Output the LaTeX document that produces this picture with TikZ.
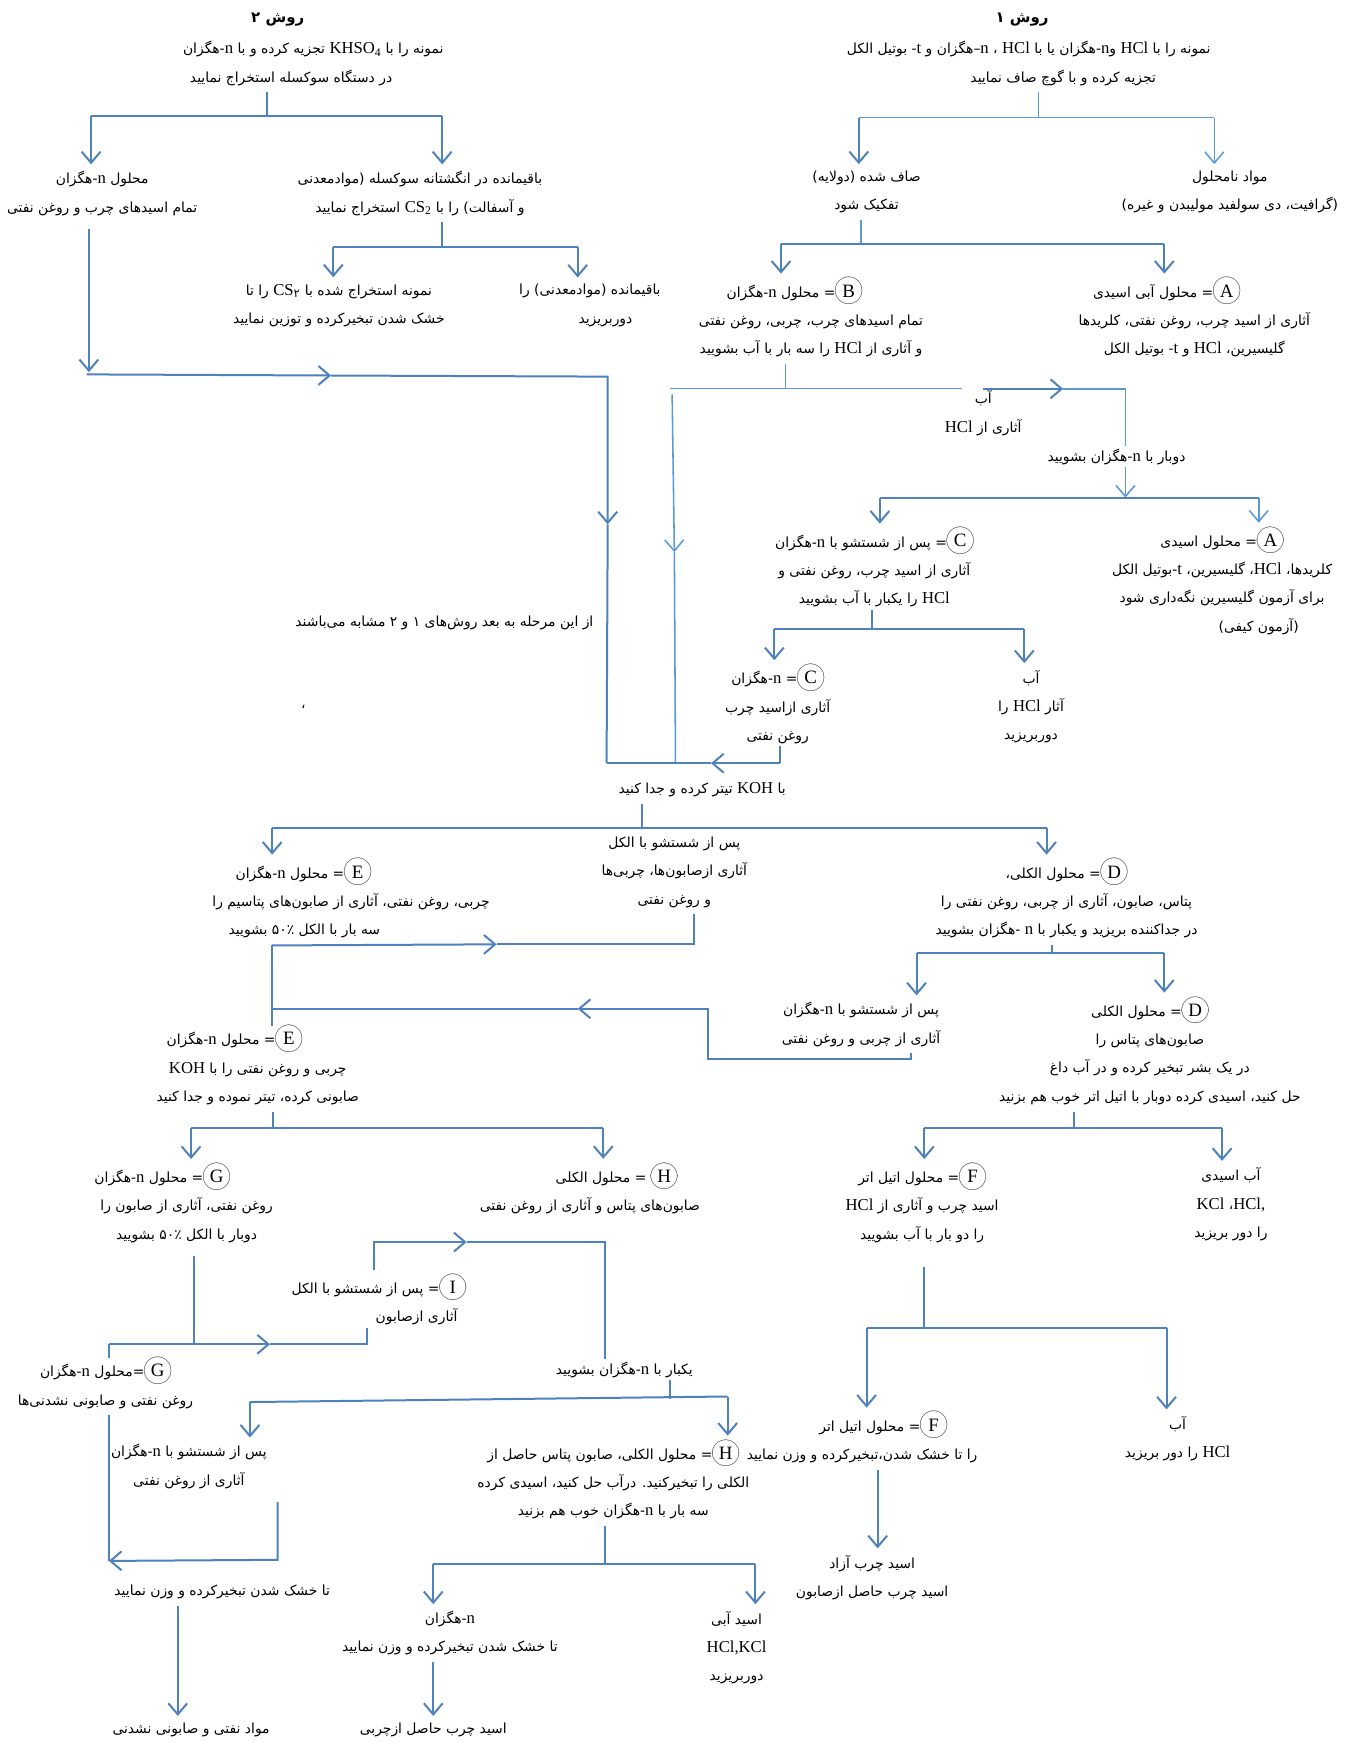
\documentclass[tikz,border=0pt]{standalone}
\usepackage{fontspec}
\usepackage{tikz}
\usetikzlibrary{arrows.meta}
\setmainfont{Liberation Serif}
\newfontfamily\fa[Script=Arabic]{DejaVu Sans}
\TeXXeTstate=1
\definecolor{lineblue}{RGB}{79,129,189}
\definecolor{lightblue}{RGB}{91,155,213}
\newcommand{\rl}[1]{\beginR #1\endR}
\newcommand{\lat}[1]{\beginL{\rmfamily\fontsize{15}{25}\selectfont #1}\endL}
\newcommand{\pad}[1]{\hspace*{#1}}
% circled letter, drawn with picture mode so that it stays a plain box
\newcommand{\cl}[1]{\beginL\setlength{\unitlength}{1pt}\begin{picture}(24,15)\put(12,5.5){\circle{24}}\put(12,0){\makebox(0,0)[b]{\rmfamily\fontsize{17}{17}\selectfont #1}}\end{picture}\endL}

\begin{document}
\begin{tikzpicture}[x=1pt, y=-1pt,
    txt/.style={font=\fa\fontsize{12.5}{25.5}\selectfont, align=center, inner sep=2pt},
    ttl/.style={font=\fa\bfseries\fontsize{13.5}{16}\selectfont, inner sep=2pt},
    wire/.style={draw=lineblue, line width=1.8pt},
    thinwire/.style={draw=lightblue, line width=1pt},
    midwire/.style={draw=lightblue, line width=1.4pt},
    stub/.style={shorten <=4pt},
    tip/.style={-{Straight Barb[length=10pt, width=17pt]}},
    marr/.style={wire, tip},
    arr/.style={wire, tip, shorten >=4pt},
    arrlight/.style={midwire, tip, shorten >=4pt},
]
\fill[white] (0,0) rectangle (1220,1568);
\useasboundingbox (0,0) rectangle (1220,1568);

% Nodes: method 2
\node[ttl] (m2) at (250,18) {\rl{روش ۲}};
\node[txt] (m2a) at (282,57) {\rl{نمونه را با \lat{KHSO\textsubscript{4}} تجزیه کرده و با \lat{n}-هگزان}\\\rl{در دستگاه سوکسله استخراج نمایید}\pad{40pt}};
\node[txt] (m2l) at (92,174) {\rl{محلول \lat{n}-هگزان}\\\rl{تمام اسیدهای چرب و روغن نفتی}};
\node[txt] (m2r) at (378,174) {\rl{باقیمانده در انگشتانه سوکسله (موادمعدنی}\\\rl{و آسفالت) را با \lat{CS\textsubscript{2}} استخراج نمایید}};
\node[txt] (m2s) at (305,275) {\rl{نمونه استخراج شده با \lat{CS\textsubscript{\fa ۲}} را تا}\\\rl{خشک شدن تبخیرکرده و توزین نمایید}};
\node[txt] (m2d) at (531,275) {\rl{باقیمانده (موادمعدنی) را}\\\pad{28pt}\rl{دوربریزید}};

% Nodes: method 1
\node[ttl] (m1) at (920,18) {\rl{روش ۱}};
\node[txt] (m1a) at (926,57) {\rl{نمونه را با \lat{HCl} و\lat{n}-هگزان یا با \lat{HCl} ، \lat{n}–هگزان و \lat{t}- بوتیل الکل}\\\pad{62pt}\rl{تجزیه کرده و با گوچ صاف نمایید}};
\node[txt] (m1l) at (780,173) {\rl{صاف شده (دولایه)}\\\rl{تفکیک شود}};
\node[txt] (m1r) at (1107,173) {\rl{مواد نامحلول}\\\rl{(گرافیت، دی سولفید مولیبدن و غیره)}};
\node[txt] (mB) at (730,287) {\rl{\cl{B}= محلول \lat{n}-هگزان}\pad{30pt}\\\rl{تمام اسیدهای چرب، چربی، روغن نفتی}\\\rl{و آثاری از \lat{HCl} را سه بار با آب بشویید}};
\node[txt] (mA) at (1075,287) {\rl{\cl{A}= محلول آبی اسیدی}\pad{50pt}\\\rl{آثاری از اسید چرب، روغن نفتی، کلریدها}\\\rl{گلیسیرین، \lat{HCl} و \lat{t}- بوتیل الکل}};
\node[txt] (mW) at (885,372) {\rl{آب}\\\rl{آثاری از \lat{HCl}}};
\node[txt] (mT) at (1005,411) {\rl{دوبار با \lat{n}-هگزان بشویید}};
\node[txt] (mC) at (787,512) {\rl{\cl{C}= پس از شستشو با \lat{n}-هگزان}\\\rl{آثاری از اسید چرب، روغن نفتی و}\\\rl{\lat{HCl} را یکبار با آب بشویید}};
\node[txt] (mA2) at (1100,524) {\rl{\cl{A}= محلول اسیدی}\\\rl{کلریدها، \lat{HCl}، گلیسیرین، \lat{t}-بوتیل الکل}\\\rl{برای آزمون گلیسیرین نگه‌داری شود}\pad{34pt}\\\pad{66pt}\rl{(آزمون کیفی)}};
\node[txt] (mC2) at (700,635) {\rl{\cl{C}= \lat{n}-هگزان}\\\rl{آثاری ازاسید چرب}\\\rl{روغن نفتی}};
\node[txt] (mWa) at (928,636) {\rl{آب}\\\rl{آثار \lat{HCl} را}\\\rl{دوربریزید}};

% Nodes: common part
\node[txt] (mNote) at (400,561) {\rl{از این مرحله به بعد روش‌های ۱ و ۲ مشابه می‌باشند}};
\node[txt] (mComma) at (273,636) {\rl{،}};
\node[txt] (mK) at (632,711) {\rl{با \lat{KOH} تیتر کرده و جدا کنید}};
\node[txt] (mM) at (607,785) {\rl{پس از شستشو با الکل}\\\rl{آثاری ازصابون‌ها، چربی‌ها}\\\rl{و روغن نفتی}};
\node[txt] (mE) at (316,810) {\rl{\cl{E}= محلول \lat{n}-هگزان}\pad{86pt}\\\rl{چربی، روغن نفتی، آثاری از صابون‌های پتاسیم را}\\\rl{سه بار با الکل ۵۰٪ بشویید}\pad{84pt}};
\node[txt] (mD) at (960,810) {\rl{\cl{D}= محلول الکلی،}\\\rl{پتاس، صابون، آثاری از چربی، روغن نفتی را}\\\rl{در جداکننده بریزید و یکبار با \lat{n} -هگزان بشویید}};
\node[txt] (mP) at (775,922) {\rl{پس از شستشو با \lat{n}-هگزان}\\\rl{آثاری از چربی و روغن نفتی}};
\node[txt] (mD2) at (1035,947) {\rl{\cl{D}= محلول الکلی}\\\rl{صابون‌های پتاس را}\\\rl{در یک بشر تبخیر کرده و در آب داغ}\\\rl{حل کنید، اسیدی کرده دوبار با اتیل اتر خوب هم بزنید}};
\node[txt] (mE2) at (232,960) {\rl{\cl{E}= محلول \lat{n}-هگزان}\pad{42pt}\\\rl{چربی و روغن نفتی را با \lat{KOH}}\\\rl{صابونی کرده، تیتر نموده و جدا کنید}};
\node[txt] (mG) at (168,1084) {\rl{\cl{G}= محلول \lat{n}-هگزان}\pad{44pt}\\\rl{روغن نفتی، آثاری از صابون را}\\\rl{دوبار با الکل ۵۰٪ بشویید}};
\node[txt] (mH) at (531,1071) {\pad{48pt}\rl{\cl{H} = محلول الکلی}\\\rl{صابون‌های پتاس و آثاری از روغن نفتی}};
\node[txt] (mF) at (830,1084) {\rl{\cl{F}= محلول اتیل اتر}\\\rl{اسید چرب و آثاری از \lat{HCl}}\\\rl{را دو بار با آب بشویید}};
\node[txt] (mQ) at (1108,1084) {\rl{آب اسیدی}\\\rl{\lat{HCl,}،~\lat{KCl}}\\\rl{را دور بریزید}};
\node[txt] (mI) at (341,1171) {\rl{\cl{I}= پس از شستشو با الکل}\\\pad{68pt}\rl{آثاری ازصابون}};
\node[txt] (mY) at (562,1233) {\rl{یکبار با \lat{n}-هگزان بشویید}};
\node[txt] (mG2) at (95,1246) {\rl{\cl{G}=محلول \lat{n}-هگزان}\\\rl{روغن نفتی و صابونی نشدنی‌ها}};
\node[txt] (mF2) at (776,1295) {\pad{38pt}\rl{\cl{F}= محلول اتیل اتر}\\\rl{را  تا خشک شدن،تبخیرکرده و وزن نمایید}};
\node[txt] (mW2) at (1060,1295) {\rl{آب}\\\rl{\lat{HCl} را دور بریزید}};
\node[txt] (mS) at (170,1320) {\rl{پس از شستشو با \lat{n}-هگزان}\\\rl{آثاری از روغن نفتی}};
\node[txt] (mH2) at (552,1333) {\rl{\cl{H}= محلول الکلی، صابون پتاس حاصل از}\\\rl{الکلی را تبخیرکنید. درآب حل کنید، اسیدی کرده}\\\rl{سه بار با \lat{n}-هگزان خوب هم بزنید}};
\node[txt] (mFree) at (785,1420) {\rl{اسید چرب آزاد}\\\rl{اسید چرب حاصل ازصابون}};
\node[txt] (mDry) at (200,1433) {\rl{تا خشک شدن تبخیرکرده و وزن نمایید}};
\node[txt] (mHx) at (405,1470) {\rl{\lat{n}-هگزان}\\\rl{تا خشک شدن تبخیرکرده و وزن نمایید}};
\node[txt] (mAq) at (663,1483) {\rl{اسید آبی}\\\rl{\lat{HCl,KCl}}\\\rl{دوربریزید}};
\node[txt] (mUns) at (172,1557) {\rl{مواد نفتی و صابونی نشدنی}};
\node[txt] (mFat) at (390,1557) {\rl{اسید چرب حاصل ازچربی}};

% Junction points
\coordinate (jL1) at (240,104); \coordinate (jL1l) at (82,104); \coordinate (jL1r) at (398,104);
\coordinate (jL2) at (398,222); \coordinate (jL2l) at (300,222); \coordinate (jL2r) at (520,222);
\coordinate (kL) at (80,335); \coordinate (kA) at (78,337); \coordinate (kAm) at (298,338);
\coordinate (kB) at (547,339); \coordinate (kBm) at (547,472); \coordinate (kC) at (546,687);
\coordinate (kD) at (702,687); \coordinate (kDm) at (640,687);
\coordinate (j1) at (935,106); \coordinate (j1l) at (773,106); \coordinate (j1r) at (1093,106);
\coordinate (jR2) at (775,220); \coordinate (jR2l) at (703,220); \coordinate (jR2r) at (1048,220);
\coordinate (wJ) at (707,350); \coordinate (wL) at (603,350); \coordinate (wR) at (866,350);
\coordinate (wA) at (885,350); \coordinate (wAm) at (957,350); \coordinate (wC) at (1013,350);
\coordinate (vT) at (605,355); \coordinate (vM) at (607,497); \coordinate (vB) at (608,687);
\coordinate (jR3) at (1013,448); \coordinate (jR3l) at (792,448); \coordinate (jR3r) at (1133,448);
\coordinate (jR4) at (785,566); \coordinate (jR4l) at (697,566); \coordinate (jR4r) at (922,566);
\coordinate (jM5) at (578,745); \coordinate (jM5l) at (245,745); \coordinate (jM5r) at (942,745);
\coordinate (nA1) at (625,850); \coordinate (nAm) at (447,850); \coordinate (nA0) at (245,851);
\coordinate (pA) at (820,953); \coordinate (pB) at (637,953); \coordinate (pC) at (637,908);
\coordinate (pCm) at (520,908); \coordinate (pD) at (245,908);
\coordinate (jM8) at (947,858); \coordinate (jM8l) at (825,858); \coordinate (jM8r) at (1048,858);
\coordinate (jM9) at (246,1015); \coordinate (jM9l) at (172,1015); \coordinate (jM9r) at (543,1015);
\coordinate (jM10) at (967,1015); \coordinate (jM10l) at (832,1015); \coordinate (jM10r) at (1100,1015);
\coordinate (jM11) at (832,1195); \coordinate (jM11l) at (780,1195); \coordinate (jM11r) at (1050,1195);
\coordinate (gA) at (175,1210); \coordinate (g0) at (98,1210); \coordinate (gm) at (243,1210); \coordinate (g2) at (330,1210);
\coordinate (iA) at (337,1118); \coordinate (iAm) at (420,1118); \coordinate (iB) at (545,1118);
\coordinate (jY) at (603,1259); \coordinate (jYl) at (225,1262); \coordinate (jYr) at (655,1257);
\coordinate (sA) at (250,1404); \coordinate (sB) at (98,1405);
\coordinate (dA) at (160,1458);
\coordinate (jH) at (545,1408); \coordinate (jHl) at (390,1408); \coordinate (jHr) at (680,1408);
\coordinate (hA) at (390,1495);
\coordinate (fA) at (790,1325);

% Connectors: method 2
\draw[wire, stub] (m2a.south -| jL1) -- (jL1);
\draw[wire] (jL1l) -- (jL1r);
\draw[arr] (jL1l) -- (jL1l |- m2l.north);
\draw[arr] (jL1r) -- (jL1r |- m2r.north);
\draw[wire, stub] (m2r.south -| jL2) -- (jL2);
\draw[wire] (jL2l) -- (jL2r);
\draw[arr] (jL2l) -- (jL2l |- m2s.north);
\draw[arr] (jL2r) -- (jL2r |- m2d.north);
\draw[marr, shorten <=10pt] (m2l.south -| kL) -- (kL);
\draw[marr] (kA) -- (kAm);
\draw[marr] (kAm) -- (kB) -- (kBm);
\draw[wire] (kBm) -- (kC);

% Connectors: method 1
\draw[thinwire, stub] (m1a.south -| j1) -- (j1);
\draw[thinwire] (j1l) -- (j1r);
\draw[arr] (j1l) -- (j1l |- m1l.north);
\draw[arrlight] (j1r) -- (j1r |- m1r.north);
\draw[thinwire, stub] (m1l.south -| jR2) -- (jR2);
\draw[wire] (jR2l) -- (jR2r);
\draw[arr] (jR2l) -- (jR2l |- mB.north);
\draw[arr] (jR2r) -- (jR2r |- mA.north);
\draw[thinwire, stub] (mB.south -| wJ) -- (wJ);
\draw[thinwire] (wL) -- (wR);
\draw[marr] (wA) -- (wAm);
\draw[midwire] (wAm) -- (wC) -- (wC |- mT.north);
\draw[midwire, tip] (vT) -- (vM);
\draw[midwire] (vM) -- (vB);
\draw[midwire, tip] (mT.south -| jR3) -- (jR3);
\draw[wire] (jR3l) -- (jR3r);
\draw[arr] (jR3l) -- (jR3l |- mC.north);
\draw[arrlight] (jR3r) -- (jR3r |- mA2.north);
\draw[wire] (mC.south -| jR4) -- (jR4);
\draw[wire] (jR4l) -- (jR4r);
\draw[arr] (jR4l) -- (jR4l |- mC2.north);
\draw[arr] (jR4r) -- (jR4r |- mWa.north);
\draw[wire] (mC2.south -| kD) -- (kD);
\draw[marr] (kD) -- (kDm);
\draw[wire] (kDm) -- (kC);

% Connectors: common part
\draw[wire, stub] (mK.south -| jM5) -- (jM5);
\draw[wire] (jM5l) -- (jM5r);
\draw[arr] (jM5l) -- (jM5l |- mE.north);
\draw[arr] (jM5r) -- (jM5r |- mD.north);
\draw[wire, stub] (mM.south -| nA1) -- (nA1) -- (nAm);
\draw[marr] (nA0) -- (nAm);
\draw[wire] (nA0) -- (nA0 |- mE2.north);
\draw[marr, stub] (mP.south -| pA) -- (pA) -- (pB) -- (pC) -- (pCm);
\draw[wire] (pCm) -- (pD);
\draw[wire, stub] (mD.south -| jM8) -- (jM8);
\draw[wire] (jM8l) -- (jM8r);
\draw[arr] (jM8l) -- (jM8l |- mP.north);
\draw[arr] (jM8r) -- (jM8r |- mD2.north);
\draw[wire, stub] (mE2.south -| jM9) -- (jM9);
\draw[wire] (jM9l) -- (jM9r);
\draw[arr] (jM9l) -- (jM9l |- mG.north);
\draw[arr] (jM9r) -- (jM9r |- mH.north);
\draw[wire, stub] (mD2.south -| jM10) -- (jM10);
\draw[wire] (jM10l) -- (jM10r);
\draw[arr] (jM10l) -- (jM10l |- mF.north);
\draw[arr] (jM10r) -- (jM10r |- mQ.north);
\draw[wire, shorten <=20pt] (mF.south -| jM11) -- (jM11);
\draw[wire] (jM11l) -- (jM11r);
\draw[arr] (jM11l) -- (jM11l |- mF2.north);
\draw[arr] (jM11r) -- (jM11r |- mW2.north);
\draw[arr, stub] (mF2.south -| fA) -- (fA |- mFree.north);
\draw[wire, shorten <=10pt] (mG.south -| gA) -- (gA);
\draw[marr] (g0) -- (gm);
\draw[wire] (gm) -- (g2) -- (g2 |- mI.south);
\draw[wire] (g0) -- (g0 |- mG2.north);
\draw[marr, stub] (mI.north -| iA) -- (iA) -- (iAm);
\draw[wire] (iAm) -- (iB) -- (iB |- mY.north);
\draw[wire] (mY.south -| jY) -- (jY);
\draw[wire] (jYl) -- (jYr);
\draw[arr] (jYl) -- (jYl |- mS.north);
\draw[arr] (jYr) -- (jYr |- mH2.north);
\draw[marr, shorten <=10pt] (mS.south -| sA) -- (sA) -- (sB);
\draw[wire, stub] (mG2.south -| sB) -- (sB);
\draw[arr, stub] (mDry.south -| dA) -- (dA |- mUns.north);
\draw[wire, stub] (mH2.south -| jH) -- (jH);
\draw[wire] (jHl) -- (jHr);
\draw[arr] (jHl) -- (jHl |- mHx.north);
\draw[arr] (jHr) -- (jHr |- mAq.north);
\draw[arr, stub] (mHx.south -| hA) -- (hA |- mFat.north);

\end{tikzpicture}
\end{document}
